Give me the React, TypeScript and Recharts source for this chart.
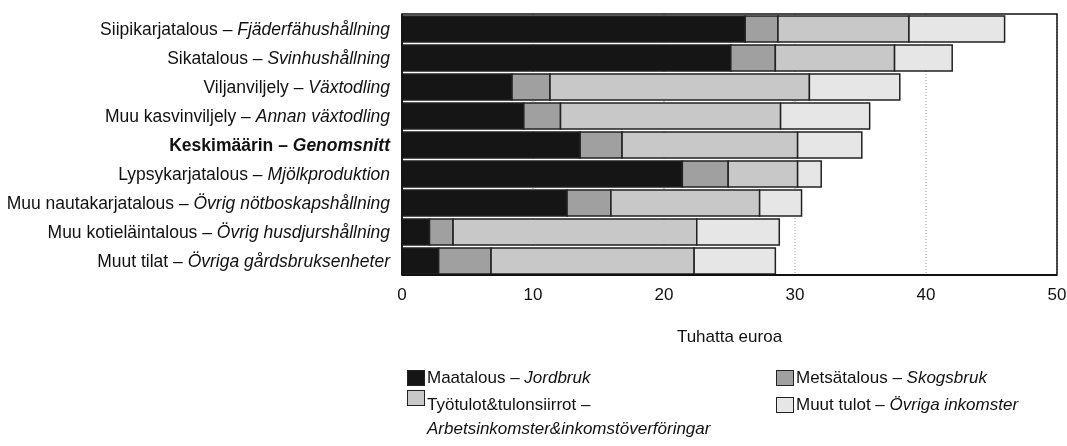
import React from 'react';
import { BarChart, Bar, XAxis, YAxis, CartesianGrid, ReferenceArea } from 'recharts';

const categoriesFi = [
  'Siipikarjatalous',
  'Sikatalous',
  'Viljanviljely',
  'Muu kasvinviljely',
  'Keskimäärin',
  'Lypsykarjatalous',
  'Muu nautakarjatalous',
  'Muu kotieläintalous',
  'Muut tilat',
];
const categoriesSv = [
  'Fjäderfähushållning',
  'Svinhushållning',
  'Växtodling',
  'Annan växtodling',
  'Genomsnitt',
  'Mjölkproduktion',
  'Övrig nötboskapshållning',
  'Övrig husdjurshållning',
  'Övriga gårdsbruksenheter',
];
const boldCategory = 'Keskimäärin';

const maatalous = [26.2, 25.1, 8.4, 9.3, 13.6, 21.4, 12.6, 2.1, 2.8];
const metsatalous = [2.5, 3.4, 2.9, 2.8, 3.2, 3.5, 3.35, 1.8, 4.0];
const tyotulot = [10.0, 9.1, 19.8, 16.8, 13.4, 5.3, 11.35, 18.6, 15.5];
const muutTulot = [7.3, 4.4, 6.9, 6.8, 4.9, 1.8, 3.2, 6.3, 6.2];

const xTicks = [0, 10, 20, 30, 40, 50];
const xAxisTitle = 'Tuhatta euroa';

const series = [
  { key: 'maatalous', fi: 'Maatalous – ', sv: 'Jordbruk', fill: '#151515' },
  { key: 'metsatalous', fi: 'Metsätalous – ', sv: 'Skogsbruk', fill: '#a0a0a0' },
  { key: 'tyotulot', fi: 'Työtulot&tulonsiirrot –', sv: 'Arbetsinkomster&inkomstöverföringar', fill: '#c8c8c8' },
  { key: 'muutTulot', fi: 'Muut tulot – ', sv: 'Övriga inkomster', fill: '#e6e6e6' },
];

const data = categoriesFi.map((fi, i) => ({
  name: fi,
  sv: categoriesSv[i],
  maatalous: maatalous[i],
  metsatalous: metsatalous[i],
  tyotulot: tyotulot[i],
  muutTulot: muutTulot[i],
}));

const FONT = '"Liberation Sans", Arial, sans-serif';
const FS = 17;
const YFS = 17.5;

const YTick = (props: any) => {
  const { x, y, payload, index } = props;
  const fi = payload.value as string;
  const sv = categoriesSv[index] ?? '';
  const bold = fi === boldCategory;
  return (
    <text
      x={x}
      y={y}
      textAnchor="end"
      dominantBaseline="central"
      fontSize={YFS}
      fontFamily={FONT}
      fill="#111"
      fontWeight={bold ? 'bold' : 'normal'}
    >
      <tspan>{fi} – </tspan>
      <tspan fontStyle="italic">{sv}</tspan>
    </text>
  );
};

const XTick = (props: any) => {
  const { x, y, payload } = props;
  return (
    <text x={x} y={y} dy="0.71em" textAnchor="middle" fontSize={FS} fontFamily={FONT} fill="#111">
      {payload.value}
    </text>
  );
};

const Swatch = ({ fill, top }: { fill: string; top: number }) => (
  <div
    style={{
      position: 'absolute',
      left: 0,
      top,
      width: 18,
      height: 16,
      background: fill,
      border: '1px solid #222',
      boxSizing: 'border-box',
    }}
  />
);

const LegendItem = ({ s, left, top, twoLine }: any) => (
  <div style={{ position: 'absolute', left, top, fontFamily: FONT, fontSize: FS, color: '#111', lineHeight: '24px' }}>
    <Swatch fill={s.fill} top={twoLine ? -3 : 4} />
    <div style={{ paddingLeft: 20, whiteSpace: 'nowrap' }}>
      {s.fi}
      {twoLine ? <br /> : null}
      <i>{s.sv}</i>
    </div>
  </div>
);

export default function App() {
  return (
    <div style={{ position: 'fixed', left: 8, top: 8, width: 1059, height: 438 }}>
      <BarChart
        width={1059}
        height={430}
        data={data}
        layout="vertical"
        margin={{ top: 6, right: 10, bottom: 93, left: 0 }}
        barSize={26}
        style={{ overflow: 'visible' }}
      >
        <CartesianGrid horizontal={false} stroke="#999" strokeDasharray="1 2" />
        <XAxis
          type="number"
          domain={[0, 50]}
          ticks={xTicks}
          interval={0}
          tickLine={false}
          tickSize={0}
          tickMargin={13}
          axisLine={{ stroke: '#111', strokeWidth: 2 }}
          height={70}
          tick={<XTick />}
          label={{ value: xAxisTitle, position: 'insideBottom', offset: 3, fontSize: FS, fontFamily: FONT, fill: '#111' }}
        />
        <YAxis
          type="category"
          dataKey="name"
          width={394}
          tickLine={false}
          tickSize={0}
          tickMargin={12}
          interval={0}
          axisLine={{ stroke: '#111', strokeWidth: 1.5 }}
          tick={<YTick />}
        />
        {series.map((s) => (
          <Bar
            key={s.key}
            dataKey={s.key}
            stackId="a"
            fill={s.fill}
            stroke="#222"
            strokeWidth={1.5}
            isAnimationActive={false}
          />
        ))}
        <ReferenceArea x1={0} x2={50} fill="none" fillOpacity={0} stroke="#111" strokeWidth={1.5} ifOverflow="visible" />
      </BarChart>
      <LegendItem s={series[0]} left={399} top={358} />
      <LegendItem s={series[1]} left={768} top={358} />
      <LegendItem s={series[2]} left={399} top={385} twoLine />
      <LegendItem s={series[3]} left={768} top={385} />
    </div>
  );
}
